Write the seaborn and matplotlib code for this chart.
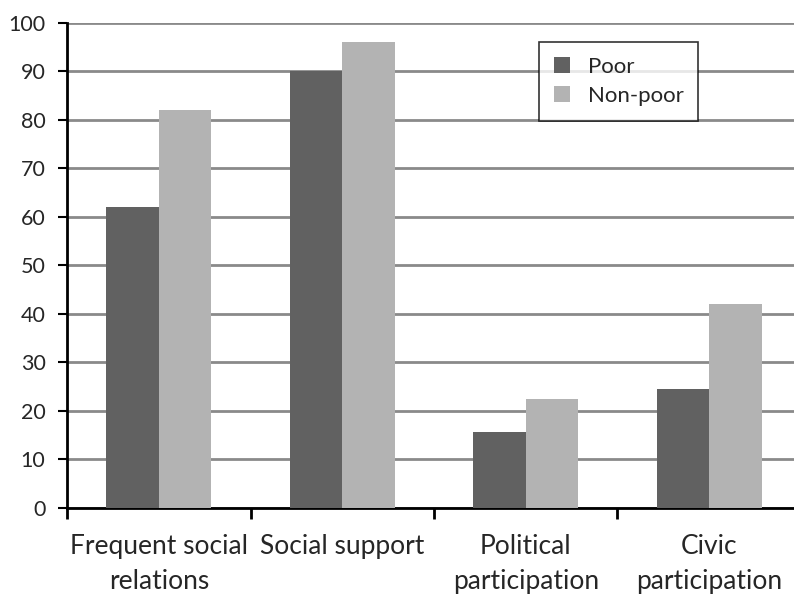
import matplotlib
matplotlib.use("Agg")
import matplotlib.pyplot as plt
import seaborn as sns
import pandas as pd
from matplotlib.ticker import FixedLocator

categories = ["Frequent social\nrelations", "Social support", "Political\nparticipation", "Civic\nparticipation"]
groups = ["Poor", "Non-poor"]
poor = [62, 90, 15.7, 24.5]
nonpoor = [82, 96, 22.5, 42]
yticks = list(range(0, 101, 10))

df = pd.DataFrame({
    "category": categories * 2,
    "group": [groups[0]] * 4 + [groups[1]] * 4,
    "value": poor + nonpoor,
})

sns.set_style("white")
plt.rcParams['font.family'] = ['Lato', 'DejaVu Sans']

fig = plt.figure(figsize=(7.94, 5.94), dpi=100)
ax = fig.add_axes([0.0844, 0.1448, 0.9244, 0.8165])

sns.barplot(data=df, x="category", y="value", hue="group", order=categories,
            hue_order=groups, palette=["#616161", "#b3b3b3"], width=0.572,
            saturation=1, linewidth=0, ax=ax, zorder=3)

ax.set_ylim(0, 100)
ax.set_xlim(-0.5, 3.5)
ax.set_yticks(yticks)
ax.set_yticklabels([str(t) for t in yticks], fontsize=15.5)
ax.yaxis.grid(True, color="#8a8a8a", linewidth=2, zorder=0)
ax.set_axisbelow(True)
ax.set_xlabel("")
ax.set_ylabel("")
for s in ["top", "right"]:
    ax.spines[s].set_visible(False)
for s in ["left", "bottom"]:
    ax.spines[s].set_color("black")
    ax.spines[s].set_linewidth(2)
ax.tick_params(axis="y", length=6.5, width=1.5, color="black", direction="out", pad=9, left=True)
ax.tick_params(axis="x", which="major", length=0, labelsize=19, pad=19)
ax.xaxis.set_minor_locator(FixedLocator([-0.5, 0.5, 1.5, 2.5]))
ax.tick_params(axis="x", which="minor", length=8, width=2, color="black", direction="out", bottom=True)
for lbl in ax.get_xticklabels():
    lbl.set_linespacing(1.5)

leg = ax.legend(loc="upper left", bbox_to_anchor=(0.6434, 0.961), frameon=True,
                fancybox=False, edgecolor="black", fontsize=16, title=None,
                handlelength=0.72, handleheight=0.72, borderpad=0.66, labelspacing=0.42,
                handletextpad=0.8, borderaxespad=0)
leg.get_frame().set_linewidth(1.2)

fig.savefig("out.png", dpi=100, facecolor="white")
